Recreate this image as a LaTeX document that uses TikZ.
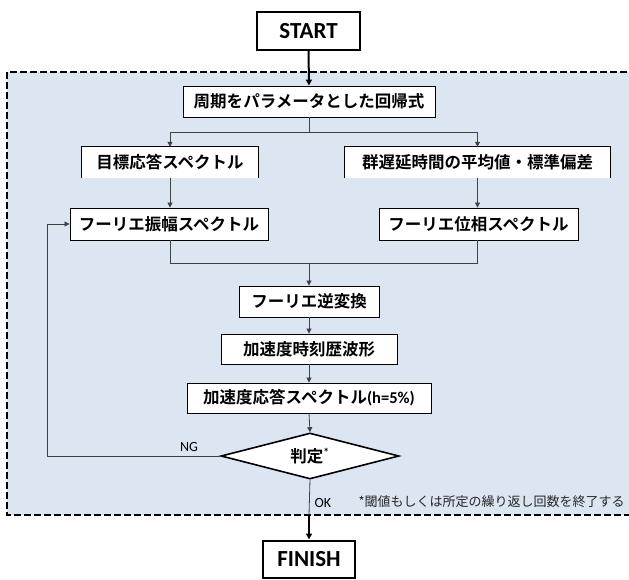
\documentclass[tikz,border=0pt]{standalone}
\usepackage{fontspec}
\setmainfont{Carlito}
\newfontfamily\jp{Noto Sans CJK JP}[BoldFont={Noto Sans CJK JP Bold}]
\usetikzlibrary{arrows.meta,shapes.geometric}
\definecolor{panel}{HTML}{DCE6F2}
\definecolor{conn}{HTML}{404040}
\tikzset{
  box/.style={draw=black, line width=0.9pt, fill=white, inner sep=0pt, minimum height=31pt,
    font=\jp\bfseries\fontsize{16.5}{18}\selectfont},
  openbox/.style={fill=white, inner sep=0pt, minimum height=31pt,
    font=\jp\bfseries\fontsize{16.5}{18}\selectfont},
  termbox/.style={draw=black, line width=2pt, fill=white, inner sep=0pt,
    font=\bfseries\fontsize{23}{25}\selectfont},
  decision/.style={diamond, draw=black, line width=1.6pt, fill=white, inner sep=0pt, aspect=3.87,
    font=\jp\bfseries\fontsize{16.5}{18}\selectfont},
  link/.style={draw=conn, line width=0.8pt},
  arr/.style={link, -{Triangle[length=5pt,width=5pt]}},
  thickarr/.style={draw=black, line width=2pt, -{Triangle[length=6pt,width=6pt]}},
  lbl/.style={font=\fontsize{14}{16}\selectfont, text=black}
}
\begin{document}
\begin{tikzpicture}[x=1pt,y=-1pt]
\useasboundingbox (0,0) rectangle (629,579);
% panel
\draw[fill=panel, draw=black, line width=2.6pt, dash pattern=on 7pt off 3pt] (7,72) rectangle (634,515);

% nodes
\node[termbox, minimum width=103pt, minimum height=38pt] (start) at (308.5,31) {START};
\node[box, minimum width=252pt] (cyc) at (309,101.5) {\jp\bfseries 周期をパラメータとした回帰式};
\node[openbox, minimum width=176pt] (tgt) at (170,162.5) {目標応答スペクトル};
\node[openbox, minimum width=265pt] (grp) at (477.5,162.5) {群遅延時間の平均値・標準偏差};
\node[box, minimum width=198pt, minimum height=32pt] (amp) at (169,224) {フーリエ振幅スペクトル};
\node[box, minimum width=199pt, minimum height=32pt] (pha) at (478.5,224) {フーリエ位相スペクトル};
\node[box, minimum width=140pt] (inv) at (309,301.5) {フーリエ逆変換};
\node[box, minimum width=176pt, minimum height=30pt] (acc) at (309,349) {加速度時刻歴波形};
\node[box, minimum width=244pt, minimum height=30pt] (rsp) at (309,398) {加速度応答スペクトル{\rmfamily\bfseries\fontsize{16.5}{18}\selectfont(h=5\%)}};
\node[decision, minimum width=178pt, minimum height=46pt] (judge) at (310,456) {判定\textsuperscript{\rmfamily *}};
\node[termbox, minimum width=92pt, minimum height=37pt] (finish) at (309,559) {FINISH};

% three-sided borders of the open boxes
\draw[black, line width=0.9pt] (tgt.south west) -- (tgt.north west) -- (tgt.north east) -- (tgt.south east);
\draw[black, line width=0.9pt] (grp.south west) -- (grp.north west) -- (grp.north east) -- (grp.south east);

% coordinates
\coordinate (split) at (309,132);
\coordinate (merge) at (309,263);
\coordinate (loopb) at (47,456);
\coordinate (loopt) at (47,224);
\coordinate (edge) at (309,515);

% connectors
\draw[thickarr] (start.south) -- (cyc.north);
\draw[link] (cyc.south) -- (split);
\draw[link] (tgt |- split) -- (grp |- split);
\draw[arr] (tgt |- split) -- (tgt.north);
\draw[arr] (grp |- split) -- (grp.north);
\draw[arr] (tgt.south) -- (tgt |- amp.north);
\draw[arr] (grp.south) -- (grp |- pha.north);
\draw[link] (tgt |- amp.south) -- (tgt |- merge) -- (grp |- merge) -- (grp |- pha.south);
\draw[arr] (merge) -- (inv.north);
\draw[arr] (inv.south) -- (acc.north);
\draw[arr] (acc.south) -- (rsp.north);
\draw[arr] (rsp.south) -- (judge.north);
\draw[arr] (judge.west) -- (loopb) -- (loopt) -- (amp.west);
\draw[link] (judge.south) -- (edge);
\draw[thickarr] (edge) -- (finish.north);

% labels
\node[lbl, anchor=south] (ng) at (189,455) {NG};
\node[lbl, anchor=west] (ok) at (311,503) {OK};
\node[anchor=west, font=\jp\fontsize{13}{15}\selectfont, text=black!85] (note) at (355,502) {*閾値もしくは所定の繰り返し回数を終了する};
\end{tikzpicture}
\end{document}
